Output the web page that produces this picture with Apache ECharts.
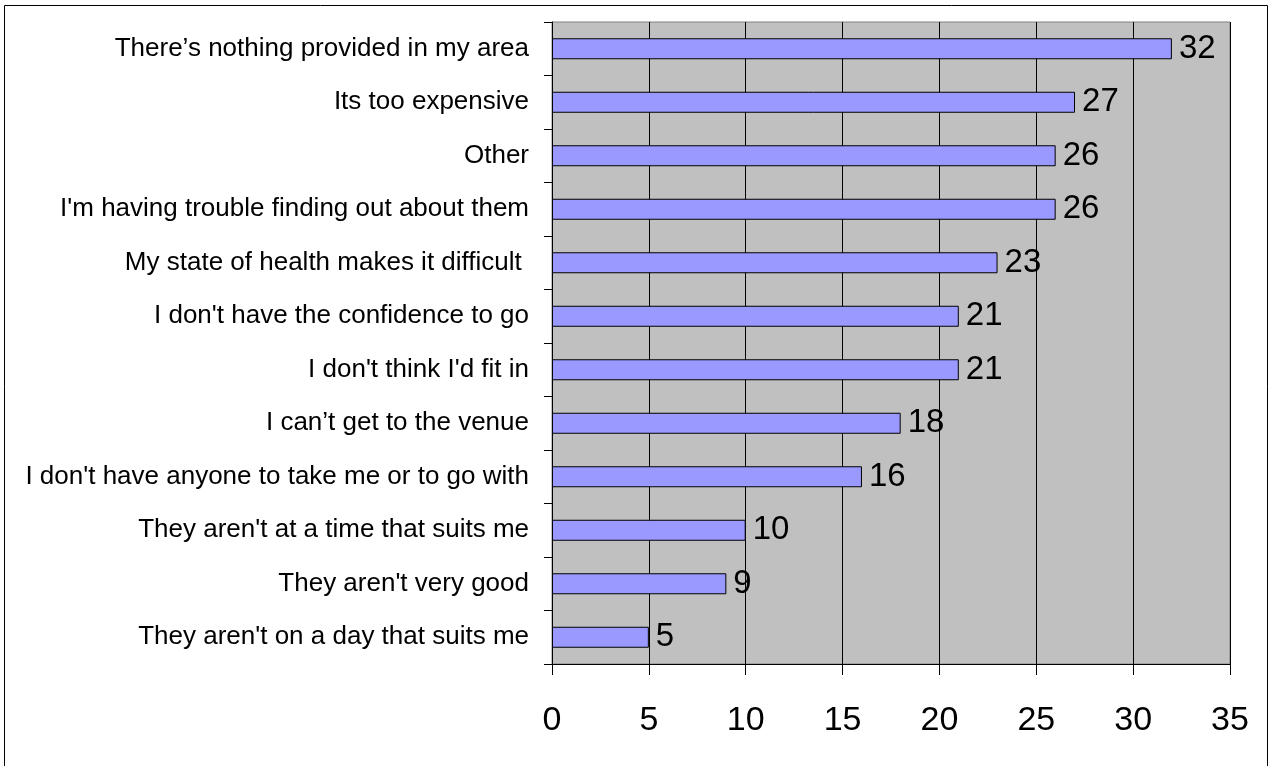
<!DOCTYPE html>
<html>
<head>
<meta charset="utf-8">
<script src="https://cdn.jsdelivr.net/npm/echarts@6/dist/echarts.min.js"></script>
<style>html,body{margin:0;padding:0;background:#fff}#c{width:1271px;height:766px}</style>
</head>
<body>
<div id="c"></div>
<script>
var categories = [
  "There\u2019s nothing provided in my area",
  "Its too expensive",
  "Other",
  "I'm having trouble finding out about them",
  "My state of health makes it difficult ",
  "I don't have the confidence to go",
  "I don't think I'd fit in",
  "I can\u2019t get to the venue",
  "I don't have anyone to take me or to go with",
  "They aren't at a time that suits me",
  "They aren't very good",
  "They aren't on a day that suits me"
];
var values = [32, 27, 26, 26, 23, 21, 21, 18, 16, 10, 9, 5];
var xTicks = [0, 5, 10, 15, 20, 25, 30, 35];

var chart = echarts.init(document.getElementById('c'), null, {renderer: 'canvas'});
chart.setOption({
  animation: false,
  textStyle: {fontFamily: 'Liberation Sans, Arial, sans-serif'},
  graphic: [{
    type: 'rect', z: -10,
    shape: {x: 4.5, y: 5.5, width: 1263, height: 800},
    style: {fill: '#fff', stroke: '#000', lineWidth: 1}
  }],
  grid: {
    left: 552, top: 22, right: 41, bottom: 102,
    show: true, backgroundColor: '#C0C0C0', borderColor: '#808080', borderWidth: 1
  },
  xAxis: {
    type: 'value', min: xTicks[0], max: xTicks[xTicks.length - 1], interval: 5,
    axisLine: {show: true, lineStyle: {color: '#000', width: 1}},
    axisTick: {show: true, length: 11, lineStyle: {color: '#000'}},
    splitLine: {show: true, lineStyle: {color: '#000', width: 1}},
    axisLabel: {fontSize: 34, color: '#000', margin: 40, fontFamily: 'Liberation Sans, Arial, sans-serif'}
  },
  yAxis: {
    type: 'category', data: categories, inverse: true,
    axisLine: {show: true, lineStyle: {color: '#000', width: 1}},
    axisTick: {show: true, length: 8, alignWithLabel: false, lineStyle: {color: '#000'}},
    axisLabel: {fontSize: 26, color: '#000', margin: 23, fontFamily: 'Liberation Sans, Arial, sans-serif'}
  },
  series: [{
    type: 'bar', data: values, barWidth: 21,
    itemStyle: {color: '#9999FF', borderColor: '#000', borderWidth: 1},
    label: {show: true, position: 'right', distance: 7, fontSize: 33, color: '#000', fontFamily: 'Liberation Sans, Arial, sans-serif'}
  }]
});
</script>
</body>
</html>
